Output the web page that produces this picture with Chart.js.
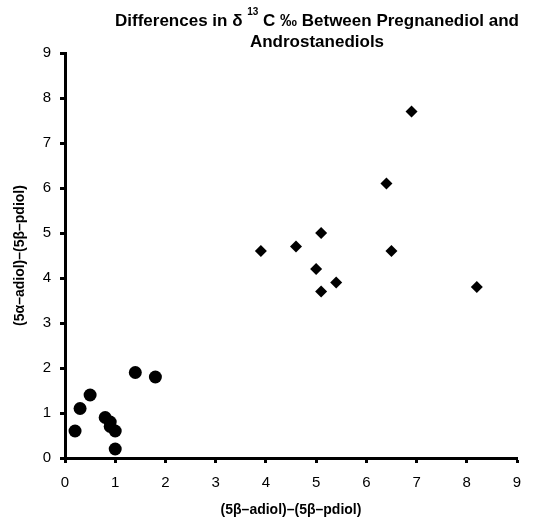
<!DOCTYPE html>
<html>
<head>
<meta charset="utf-8">
<script src="https://cdn.jsdelivr.net/npm/chart.js@4/dist/chart.umd.min.js"></script>
<style>
  html, body { margin: 0; padding: 0; background: #fff; }
  #wrap { width: 536px; height: 519px; }
</style>
</head>
<body>
<div id="wrap"><canvas id="chartDelta"></canvas></div>
<script>
// pregnanediol group (circles)
const circleX = [0.2, 0.3, 0.5, 0.8, 0.9, 0.9, 1.0, 1.0, 1.4, 1.8];
const circleY = [0.6, 1.1, 1.4, 0.9, 0.8, 0.7, 0.6, 0.2, 1.9, 1.8];
// androstanediol group (diamonds)
const diamondX = [3.9, 4.6, 5.0, 5.1, 5.1, 5.4, 6.4, 6.5, 6.9, 8.2];
const diamondY = [4.6, 4.7, 4.2, 5.0, 3.7, 3.9, 6.1, 4.6, 7.7, 3.8];

const axisMin = 0;
const axisMax = 9;
const xTitle = "(5β–adiol)–(5β–pdiol)";
const yTitle = "(5α–adiol)–(5β–pdiol)";

const FONT = "'Liberation Sans', Arial, Helvetica, sans-serif";

const toPoints = (xs, ys) => xs.map((x, i) => ({ x: x, y: ys[i] }));

// two line title with a superscript 13, drawn by hand
const titlePlugin = {
  id: "deltaTitle",
  afterDraw: (chart) => {
    const ctx = chart.ctx;
    const cx = 317;
    ctx.save();
    ctx.fillStyle = "#000";
    ctx.textBaseline = "alphabetic";
    ctx.textAlign = "left";

    const big = "bold 17px " + FONT;
    const small = "bold 10px " + FONT;
    const partA = "Differences in δ ";
    const sup = "13";
    const partB = " C ‰ Between Pregnanediol and";

    ctx.font = big;
    const wA = ctx.measureText(partA).width;
    const wB = ctx.measureText(partB).width;
    ctx.font = small;
    const wS = ctx.measureText(sup).width;
    let x = cx - (wA + wS + wB) / 2;
    const base1 = 26;

    ctx.font = big;
    ctx.fillText(partA, x, base1);
    x += wA;
    ctx.font = small;
    ctx.fillText(sup, x, base1 - 11);
    x += wS;
    ctx.font = big;
    ctx.fillText(partB, x, base1);

    ctx.textAlign = "center";
    ctx.fillText("Androstanediols", cx, 47);
    ctx.restore();
  },
};

const data = {
  datasets: [
    {
      label: "circles",
      data: toPoints(circleX, circleY),
      pointStyle: "circle",
      pointRadius: 6.5,
      backgroundColor: "#000",
      borderColor: "#000",
      borderWidth: 0,
    },
    {
      label: "diamonds",
      data: toPoints(diamondX, diamondY),
      pointStyle: "rectRot",
      pointRadius: 6,
      backgroundColor: "#000",
      borderColor: "#000",
      borderWidth: 0,
    },
  ],
};

const axisCommon = {
  type: "linear",
  min: axisMin,
  max: axisMax,
  border: { display: true, color: "#000", width: 3 },
  grid: {
    display: true,
    drawOnChartArea: false,
    drawTicks: true,
    tickLength: 5,
    tickWidth: 3,
    tickColor: "#000",
  },
};

const config = {
  type: "scatter",
  data,
  plugins: [titlePlugin],
  options: {
    responsive: true,
    maintainAspectRatio: false,
    animation: false,
    layout: { padding: { top: 53, right: 19, left: 0, bottom: 0 } },
    plugins: {
      legend: { display: false },
      tooltip: { enabled: false },
      title: { display: false },
    },
    scales: {
      x: {
        ...axisCommon,
        position: "bottom",
        ticks: {
          stepSize: 1,
          color: "#000",
          padding: 11,
          font: { family: FONT, size: 15 },
        },
        title: {
          display: true,
          text: xTitle,
          color: "#000",
          padding: { top: 4, bottom: 0 },
          font: { family: FONT, size: 14, weight: "bold" },
        },
        afterFit: (scale) => {
          scale.height = 61;
        },
      },
      y: {
        ...axisCommon,
        position: "left",
        ticks: {
          stepSize: 1,
          color: "#000",
          padding: 9,
          font: { family: FONT, size: 15 },
        },
        title: {
          display: true,
          text: yTitle,
          color: "#000",
          padding: { top: 12, bottom: 4 },
          font: { family: FONT, size: 14, weight: "bold" },
        },
        afterFit: (scale) => {
          scale.width = 65;
        },
      },
    },
  },
};

const chartDelta = new Chart(document.getElementById("chartDelta"), config);
</script>
</body>
</html>
